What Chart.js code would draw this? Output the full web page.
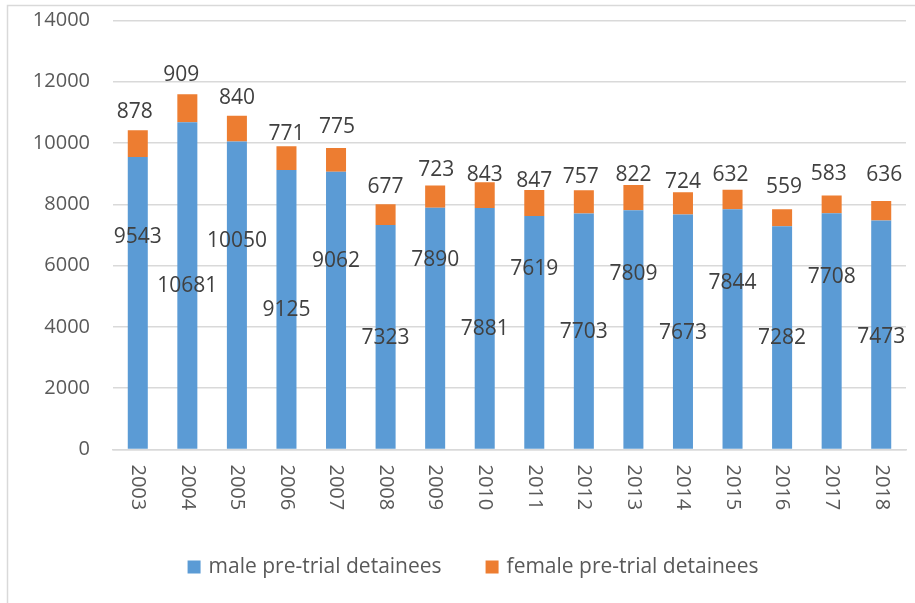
<!DOCTYPE html>
<html>
<head>
<meta charset="utf-8">
<title>Pre-trial detainees 2003-2018</title>
<script src="https://cdn.jsdelivr.net/npm/chart.js@4.4.1/dist/chart.umd.min.js"></script>
<style>
  html, body { margin: 0; padding: 0; background: #fff; }
  canvas { display: block; }
</style>
</head>
<body>
<canvas id="detaineesChart" width="915" height="603"></canvas>
<script>
// data
const years = ['2003', '2004', '2005', '2006', '2007', '2008', '2009', '2010',
  '2011', '2012', '2013', '2014', '2015', '2016', '2017', '2018'];
const maleDetainees = [9543, 10681, 10050, 9125, 9062, 7323, 7890, 7881,
  7619, 7703, 7809, 7673, 7844, 7282, 7708, 7473];
const femaleDetainees = [878, 909, 840, 771, 775, 677, 723, 843,
  847, 757, 822, 724, 632, 559, 583, 636];
const yTicks = [0, 2000, 4000, 6000, 8000, 10000, 12000, 14000];

// the labels in the original were dragged by hand, these are the nudges (px)
const maleLabelShift = [-66, 1, -54, 1, -49, 1, -68, 1, -63, 1, -55, 1, -46, 0, -54, 2];
const femaleLabelGap = [18, 19, 18, 12, 21, 17, 16, 7, 9, 13, 10, 10, 15, 22, 21, 26];
const femaleLabelDx = [-3, -6, 0, 0, 1, 0, 1, 0, 0, -3, 0, 0, -2, 2, -3, 3];

const FONT = '"Open Sans", "Noto Sans", sans-serif';
const gridColor = '#D9D9D9';
const axisText = '#595959';

const extras = {
  id: 'extras',
  beforeDraw(chart) {
    const ctx = chart.ctx;
    ctx.save();
    ctx.fillStyle = '#fff';
    ctx.fillRect(0, 0, chart.width, chart.height);
    // frame (only top and left edge show in the original)
    ctx.strokeStyle = gridColor;
    ctx.lineWidth = 1.5;
    ctx.beginPath();
    ctx.moveTo(7.5, chart.height);
    ctx.lineTo(7.5, 5.5);
    ctx.lineTo(chart.width, 5.5);
    ctx.stroke();
    ctx.restore();
  },
  afterDatasetsDraw(chart) {
    const ctx = chart.ctx;
    const male = chart.getDatasetMeta(0).data;
    const female = chart.getDatasetMeta(1).data;
    ctx.save();
    ctx.font = '21px ' + FONT;
    ctx.fillStyle = '#404040';
    ctx.textAlign = 'center';
    ctx.textBaseline = 'middle';
    male.forEach((bar, i) => {
      const y = (bar.y + bar.base) / 2 + maleLabelShift[i];
      ctx.fillText(String(maleDetainees[i]), bar.x, y);
    });
    female.forEach((bar, i) => {
      ctx.fillText(String(femaleDetainees[i]), bar.x + femaleLabelDx[i], bar.y - femaleLabelGap[i]);
    });
    ctx.restore();
  },
  afterDraw(chart) {
    const ctx = chart.ctx;
    const xScale = chart.scales.x;
    ctx.save();
    // year labels, rotated to read top to bottom
    ctx.font = '20px ' + FONT;
    ctx.fillStyle = axisText;
    ctx.textAlign = 'left';
    ctx.textBaseline = 'middle';
    years.forEach((yr, i) => {
      const x = xScale.getPixelForValue(i);
      ctx.save();
      ctx.translate(x, chart.chartArea.bottom + 15);
      ctx.rotate(Math.PI / 2);
      ctx.fillText(yr, 0, 0);
      ctx.restore();
    });

    // legend
    ctx.font = '21px ' + FONT;
    const box = 13, gap = 8, spacing = 44, centerX = 473, midY = 567;
    const items = chart.data.datasets.map(ds => ({
      text: ds.label, color: ds.backgroundColor, w: ctx.measureText(ds.label).width
    }));
    let total = items.reduce((s, it) => s + box + gap + it.w, 0) + spacing * (items.length - 1);
    let x = centerX - total / 2;
    items.forEach(it => {
      ctx.fillStyle = it.color;
      ctx.fillRect(x, midY - box / 2, box, box);
      ctx.fillStyle = axisText;
      ctx.fillText(it.text, x + box + gap, midY);
      x += box + gap + it.w + spacing;
    });
    ctx.restore();
  }
};

new Chart(document.getElementById('detaineesChart'), {
  type: 'bar',
  data: {
    labels: years,
    datasets: [
      {
        label: 'male pre-trial detainees',
        data: maleDetainees,
        backgroundColor: '#5B9BD5',
        barPercentage: 0.404,
        categoryPercentage: 1.0
      },
      {
        label: 'female pre-trial detainees',
        data: femaleDetainees,
        backgroundColor: '#ED7D31',
        barPercentage: 0.404,
        categoryPercentage: 1.0
      }
    ]
  },
  options: {
    responsive: false,
    animation: false,
    devicePixelRatio: 1,
    layout: { padding: { top: 20.5, right: 9, bottom: 0, left: 0 } },
    plugins: {
      legend: { display: false },
      tooltip: { enabled: false }
    },
    scales: {
      x: {
        stacked: true,
        grid: { display: false },
        border: { color: gridColor, width: 1.5 },
        ticks: { display: false },
        afterFit(scale) { scale.height = 153.5; }
      },
      y: {
        stacked: true,
        min: 0,
        max: 14000,
        afterBuildTicks(scale) { scale.ticks = yTicks.map(v => ({ value: v })); },
        grid: { color: gridColor, lineWidth: 1.5, drawTicks: false },
        border: { display: false },
        ticks: {
          padding: 23,
          color: axisText,
          font: { family: FONT, size: 20 },
          callback: (v) => String(v)
        },
        afterFit(scale) {
          scale.width = 113;
          scale.paddingTop = 0;
          scale.paddingBottom = 0;
        }
      }
    }
  },
  plugins: [extras]
});
</script>
</body>
</html>
